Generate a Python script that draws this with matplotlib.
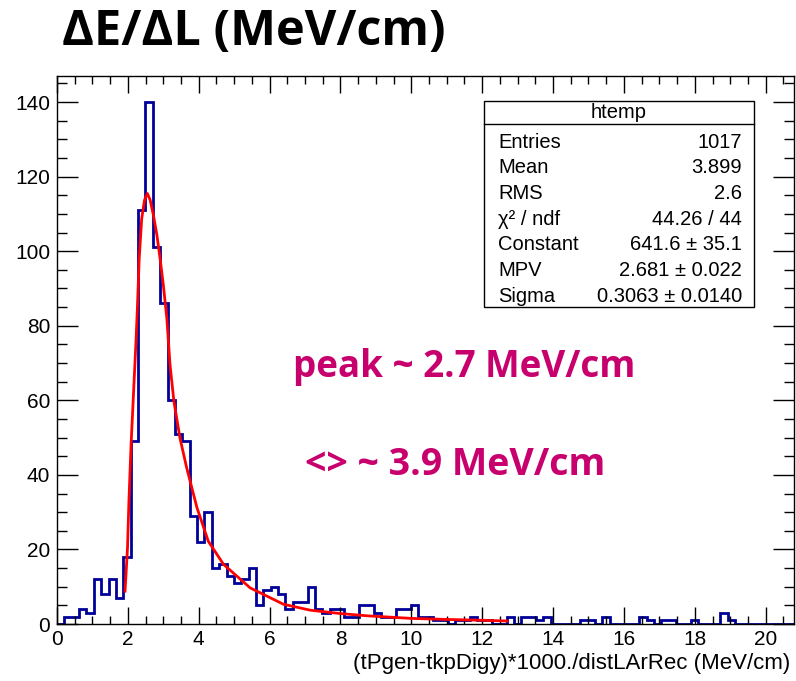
import numpy as np
import matplotlib
matplotlib.use("Agg")
import matplotlib.pyplot as plt
from matplotlib.patches import Rectangle
from matplotlib.lines import Line2D
from matplotlib.ticker import MultipleLocator

# histogram of dE/dx, 100 bins from 0 to 20.8 MeV/cm
x_min, x_max, n_bins = 0.0, 20.8, 100
counts = [0, 2, 2, 4, 3, 12, 8, 12, 7, 18,
          49, 111, 140, 101, 86, 60, 51, 49, 29, 22,
          30, 15, 16, 13, 11, 12, 15, 5, 9, 10,
          8, 4, 6, 6, 10, 4, 3, 4, 4, 2,
          2, 5, 5, 3, 2, 2, 4, 4, 5, 2,
          2, 1, 1, 0, 1, 1, 2, 1, 1, 0,
          0, 2, 0, 2, 2, 1, 2, 0, 0, 0,
          0, 1, 1, 0, 2, 0, 0, 0, 0, 2,
          1, 0, 1, 1, 0, 0, 1, 0, 0, 0,
          3, 1, 0, 0, 0, 0, 0, 0, 0, 0]

# landau fit curve
fit_x = [1.92, 1.99, 2.03, 2.09, 2.16, 2.23, 2.27, 2.32, 2.39, 2.47,
         2.55, 2.63, 2.72, 2.82, 2.91, 3.00, 3.10, 3.19, 3.30, 3.47,
         3.66, 3.95, 4.27, 4.70, 5.45, 6.39, 7.15, 8.0, 8.75, 10.0,
         11.1, 12.0, 12.7]
fit_y = [8.8, 20.4, 33, 48, 62, 76, 85, 98, 108.7, 113.7,
         115.5, 113.7, 109.7, 104.3, 98, 91, 82, 69.5, 59.7, 49.9,
         41.9, 31.2, 22.2, 16, 9.7, 5.3, 3.7, 2.8, 2.2, 1.5,
         1.2, 1.0, 0.8]

stat_names = ["Entries", "Mean", "RMS", "\u03c7\u00b2 / ndf", "Constant", "MPV", "Sigma"]
stat_values = ["1017", "3.899", "2.6", "44.26 / 44", "641.6 \u00b1 35.1",
               "2.681 \u00b1 0.022", "0.3063 \u00b1 0.0140"]

W, H = 796, 681
fig = plt.figure(figsize=(W / 100, H / 100), dpi=100)
fig.patch.set_facecolor("white")


def fx(px):
    return px / W


def fy(py):
    return 1 - py / H


ax = fig.add_axes([fx(57), fy(624), fx(794) - fx(57), fy(76) - fy(624)])

edges = np.linspace(x_min, x_max, n_bins + 1)
ax.stairs(counts, edges, color="#000099", linewidth=2.0, baseline=0)
ax.plot(fit_x, fit_y, color="#ff0000", linewidth=2.0)

ax.set_xlim(x_min, x_max)
ax.set_ylim(0, 147)

ax.xaxis.set_major_locator(MultipleLocator(2))
ax.xaxis.set_minor_locator(MultipleLocator(0.5))
ax.yaxis.set_major_locator(MultipleLocator(20))
ax.yaxis.set_minor_locator(MultipleLocator(5))
ax.tick_params(axis="both", which="both", direction="in", top=True, right=True,
               width=1.0, labelsize=15)
ax.tick_params(axis="x", which="major", length=12, pad=4)
ax.tick_params(axis="x", which="minor", length=6)
ax.tick_params(axis="y", which="major", length=15, pad=5)
ax.tick_params(axis="y", which="minor", length=7.5)
for lab in ax.get_xticklabels() + ax.get_yticklabels():
    lab.set_family("Liberation Sans")
for sp in ax.spines.values():
    sp.set_linewidth(1.0)

fig.text(fx(790), fy(663), "(tPgen-tkpDigy)*1000./distLArRec (MeV/cm)",
         ha="right", va="center", fontsize=16, family="Liberation Sans")

# title and annotations
fig.text(fx(62), fy(33), "\u0394E/\u0394L (MeV/cm)", ha="left", va="center",
         fontsize=35, fontweight="bold", family="Open Sans")
fig.text(fx(293), fy(367), "peak ~ 2.7 MeV/cm", ha="left", va="center",
         fontsize=26.5, fontweight="bold", family="Open Sans", color="#c8006e")
fig.text(fx(305), fy(465), "<> ~ 3.9 MeV/cm", ha="left", va="center",
         fontsize=27, fontweight="bold", family="Open Sans", color="#c8006e")

# stats box
bx0, bx1, by0, by1 = 484, 754, 101, 307
fig.patches.append(Rectangle((fx(bx0), fy(by1)), fx(bx1) - fx(bx0), fy(by0) - fy(by1),
                             transform=fig.transFigure, facecolor="white",
                             edgecolor="black", linewidth=1.0, zorder=5))
fig.lines.append(Line2D([fx(bx0), fx(bx1)], [fy(124), fy(124)],
                        transform=fig.transFigure, color="black", linewidth=1.0, zorder=6))
fig.text(fx((bx0 + bx1) / 2), fy(113), "htemp", ha="center", va="center",
         fontsize=14.5, family="Liberation Sans", zorder=7)
for i, (name, val) in enumerate(zip(stat_names, stat_values)):
    yy = 142 + i * 25.7
    fig.text(fx(498), fy(yy), name, ha="left", va="center", fontsize=14.5,
             family="Liberation Sans", zorder=7)
    fig.text(fx(742), fy(yy), val, ha="right", va="center", fontsize=14.5,
             family="Liberation Sans", zorder=7)

fig.savefig("out.png", dpi=100, facecolor="white")
